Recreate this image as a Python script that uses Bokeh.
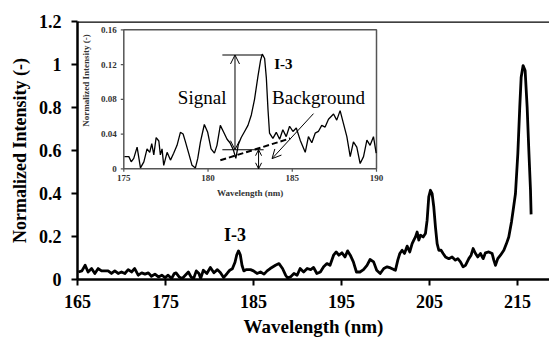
import numpy as np
from bokeh.plotting import figure
from bokeh.models import Range1d, FixedTicker, NumeralTickFormatter, Span, Arrow, OpenHead
from bokeh.core.properties import value
from bokeh.embed import file_html
from bokeh.resources import INLINE

# ---------------- data ----------------
main_wl = [165.1, 165.5, 165.87, 166.2, 166.6, 166.97, 167.35, 167.73, 168.1, 168.48,
           168.86, 169.24, 169.62, 170.0, 170.38, 170.76, 171.14, 171.5, 171.9, 172.3,
           172.67, 173.05, 173.4, 173.8, 174.2, 174.58, 174.96, 175.3, 175.7, 176.0,
           176.2, 176.55, 176.9, 177.25, 177.6, 177.9, 178.2, 178.5, 178.8, 179.0,
           179.3, 179.7, 180.1, 180.5, 180.9, 181.25, 181.6, 182.0, 182.3, 182.6,
           182.9, 183.1, 183.3, 183.5, 183.7, 183.9, 184.2, 184.66, 185.0, 185.4,
           185.8, 186.2, 186.55, 186.9, 187.5, 187.9, 188.3, 188.65, 188.86, 189.2,
           189.6, 189.96, 190.3, 190.7, 191.1, 191.5, 191.83, 192.2, 192.6, 192.97,
           193.35, 193.7, 194.1, 194.4, 194.7, 195.05, 195.4, 195.7, 196.0, 196.35,
           196.7, 197.1, 197.5, 197.9, 198.25, 198.65, 199.0, 199.4, 199.81, 200.19,
           200.57, 200.95, 201.13, 201.4, 201.63, 201.89, 202.16, 202.46, 202.76, 203.03,
           203.22, 203.41, 203.6, 203.79, 203.98, 204.28, 204.54, 204.73, 204.92, 205.11,
           205.3, 205.49, 205.68, 205.87, 206.06, 206.32, 206.55, 206.82, 207.2, 207.57,
           207.95, 208.22, 208.52, 208.82, 209.09, 209.47, 209.73, 209.96, 210.23, 210.49,
           210.79, 211.1, 211.36, 211.74, 212.12, 212.31, 212.5, 212.76, 213.07, 213.45,
           213.75, 214.01, 214.32, 214.51, 214.77, 215.04, 215.26, 215.42, 215.64, 215.87,
           216.1, 216.29, 216.48, 216.55]
main_int = [0.035, 0.040, 0.066, 0.035, 0.051, 0.028, 0.051, 0.040, 0.040, 0.040,
            0.028, 0.040, 0.028, 0.035, 0.028, 0.046, 0.035, 0.051, 0.020, 0.031,
            0.025, 0.031, 0.015, 0.025, 0.012, 0.020, 0.009, 0.020, 0.005, 0.028,
            0.031, 0.012, 0.005, 0.020, 0.035, 0.012, 0.005, 0.040, 0.028, 0.005,
            0.043, 0.028, 0.056, 0.031, 0.046, 0.031, 0.009, 0.028, 0.043, 0.050,
            0.080, 0.115, 0.133, 0.115, 0.065, 0.040, 0.046, 0.046, 0.040, 0.028,
            0.035, 0.025, 0.040, 0.051, 0.066, 0.074, 0.051, 0.020, 0.008, 0.012,
            0.028, 0.020, 0.051, 0.035, 0.051, 0.046, 0.056, 0.028, 0.035, 0.059,
            0.074, 0.066, 0.113, 0.128, 0.113, 0.124, 0.105, 0.133, 0.113, 0.082,
            0.035, 0.035, 0.046, 0.066, 0.093, 0.082, 0.043, 0.028, 0.051, 0.059,
            0.054, 0.046, 0.043, 0.090, 0.121, 0.136, 0.121, 0.155, 0.128, 0.167,
            0.183, 0.198, 0.221, 0.183, 0.206, 0.198, 0.214, 0.275, 0.384, 0.415,
            0.399, 0.337, 0.244, 0.167, 0.136, 0.136, 0.121, 0.105, 0.097, 0.105,
            0.090, 0.097, 0.082, 0.059, 0.066, 0.097, 0.113, 0.144, 0.121, 0.105,
            0.121, 0.097, 0.124, 0.128, 0.121, 0.090, 0.066, 0.097, 0.113, 0.136,
            0.167, 0.198, 0.268, 0.322, 0.399, 0.585, 0.802, 0.941, 0.995, 0.972,
            0.802, 0.601, 0.415, 0.303]

inset_wl = [175.04, 175.30, 175.44, 175.59, 175.79, 175.99, 176.19, 176.38, 176.54, 176.66,
            176.78, 176.92, 177.08, 177.17, 177.27, 177.37, 177.57, 177.77, 177.96, 178.16,
            178.36, 178.52, 178.66, 178.85, 179.05, 179.25, 179.39, 179.55, 179.78, 179.98,
            180.18, 180.38, 180.53, 180.73, 180.93, 181.13, 181.3, 181.5, 181.65, 181.8,
            181.97, 182.17, 182.37, 182.57, 182.76, 182.96, 183.12, 183.22, 183.36, 183.46,
            183.56, 183.65, 183.85, 184.05, 184.25, 184.44, 184.64, 184.84, 185.04, 185.24,
            185.47, 185.77, 185.96, 186.16, 186.36, 186.55, 186.75, 186.95, 187.15, 187.35,
            187.45, 187.64, 187.84, 188.04, 188.24, 188.44, 188.63, 188.83, 189.03, 189.23,
            189.43, 189.62, 189.82, 189.98]
inset_int = [0.014, 0.014, 0.008, 0.012, 0.025, 0.001, 0.008, 0.023, 0.019, 0.029,
             0.016, 0.036, 0.032, 0.016, 0.023, 0.004, 0.019, 0.010, 0.018, 0.027,
             0.042, 0.040, 0.031, 0.018, 0.004, 0.001, 0.012, 0.031, 0.051, 0.042,
             0.023, 0.018, 0.027, 0.050, 0.042, 0.034, 0.030, 0.022, 0.012, 0.028,
             0.036, 0.043, 0.050, 0.062, 0.080, 0.106, 0.125, 0.132, 0.127, 0.105,
             0.068, 0.041, 0.035, 0.042, 0.034, 0.045, 0.037, 0.049, 0.043, 0.047,
             0.033, 0.019, 0.037, 0.030, 0.041, 0.043, 0.050, 0.048, 0.057, 0.061,
             0.063, 0.056, 0.067, 0.052, 0.037, 0.014, 0.031, 0.025, 0.006, 0.014,
             0.033, 0.027, 0.037, 0.018]

main_xticks = [165, 175, 185, 195, 205, 215]
main_yticks = [0, 0.2, 0.4, 0.6, 0.8, 1.0, 1.2]
inset_xticks = [175, 180, 185, 190]
inset_xtick_labels = ["175", "180", "185", "190"]
inset_yticks = [0, 0.04, 0.08, 0.12, 0.16]
inset_ytick_labels = ["0", "0.04", "0.08", "0.12", "0.16"]

FONT = "Liberation Serif"

# ---------------- main figure ----------------
p = figure(width=549, height=341, output_backend="svg", toolbar_location=None,
           x_range=Range1d(165, 218.64), y_range=Range1d(0, 1.2),
           min_border_left=77, min_border_right=0, min_border_top=21, min_border_bottom=62)
p.outline_line_color = None
p.grid.visible = False
p.background_fill_color = "white"
p.border_fill_color = "white"

for ax in (p.xaxis[0], p.yaxis[0]):
    ax.axis_line_width = 2.5
    ax.axis_line_color = "black"
    ax.major_tick_line_width = 2
    ax.major_tick_line_color = "black"
    ax.major_tick_out = 6
    ax.major_tick_in = 0
    ax.minor_tick_line_color = None
    ax.major_label_text_font = FONT
    ax.major_label_text_font_style = "bold"
    ax.major_label_text_font_size = "18px"
    ax.major_label_text_color = "black"
    ax.axis_label_text_font = FONT
    ax.axis_label_text_font_style = "bold"
    ax.axis_label_text_color = "black"

p.xaxis.ticker = FixedTicker(ticks=main_xticks)
p.yaxis.ticker = FixedTicker(ticks=main_yticks)
p.yaxis.formatter = NumeralTickFormatter(format="0.[0]")
p.xaxis.major_label_standoff = 9
p.yaxis.major_label_standoff = 10

p.yaxis.axis_label = "Normalized Intensity (-)"
p.yaxis.axis_label_text_font_size = "18px"
p.yaxis.axis_label_standoff = 6

p.xaxis.axis_label = "Wavelength (nm)"
p.xaxis.axis_label_text_font_size = "19px"
p.xaxis.axis_label_standoff = 5

p.add_layout(Span(location=1.2, dimension="width", line_color="black", line_width=2.5))

p.line(main_wl, main_int, line_color="black", line_width=2.8, line_join="round")

p.text(x=[182.9], y=[0.205], text=["I-3"], text_font=value(FONT), text_font_style="bold",
       text_font_size="18px", text_align="center", text_baseline="alphabetic", text_color="black")

# ---------------- inset (drawn with extra ranges) ----------------
frame_l, frame_r, frame_t, frame_b = 77.0, 549.0, 21.0, 279.0
in_l, in_r, in_t, in_b = 123.3, 376.0, 29.3, 168.3
ix0, ix1 = 175.0, 190.0
iy0, iy1 = 0.0, 0.16
sx = (in_r - in_l) / (ix1 - ix0)
sy = (in_b - in_t) / (iy1 - iy0)
p.extra_x_ranges = {"ix": Range1d(ix0 - (in_l - frame_l) / sx, ix1 + (frame_r - in_r) / sx)}
p.extra_y_ranges = {"iy": Range1d(iy0 - (frame_b - in_b) / sy, iy1 + (in_t - frame_t) / sy)}
kw = dict(x_range_name="ix", y_range_name="iy")

p.quad(left=[ix0], right=[ix1], bottom=[iy0], top=[iy1], fill_color="white",
       line_color="#555555", line_width=1.5, **kw)
p.line(inset_wl, inset_int, line_color="black", line_width=1.3, **kw)

p.ray(x=[ix0] * len(inset_yticks), y=inset_yticks, length=3, angle=np.pi,
      length_units="screen", line_color="#555555", line_width=1.2, **kw)
p.ray(x=inset_xticks, y=[iy0] * len(inset_xticks), length=3, angle=-np.pi / 2,
      length_units="screen", line_color="#555555", line_width=1.2, **kw)

small = dict(text_font=value(FONT), text_font_style="bold", text_font_size="9px", text_color="#333333")
p.text(x=[ix0] * len(inset_yticks), y=inset_yticks, text=inset_ytick_labels, x_offset=-7,
       text_align="right", text_baseline="middle", **small, **kw)
p.text(x=inset_xticks, y=[iy0] * len(inset_xticks), text=inset_xtick_labels, y_offset=6,
       text_align="center", text_baseline="top", **small, **kw)
p.text(x=[182.5], y=[iy0], text=["Wavelength (nm)"], y_offset=19,
       text_align="center", text_baseline="top", **small, **kw)
p.text(x=[172.75], y=[0.1016], text=["Normalized Intensity (-)"], angle=np.pi / 2,
       text_align="center", text_baseline="middle", **small, **kw)

# annotation lines
p.segment(x0=[180.85, 180.85], y0=[0.131, 0.022], x1=[183.25, 183.3], y1=[0.131, 0.022],
          line_color="black", line_width=1.1, **kw)
p.line([180.73, 184.88], [0.0098, 0.035], line_color="black", line_dash="6 3", line_width=2, **kw)

p.add_layout(Arrow(x_start=181.6, y_start=0.022, x_end=181.6, y_end=0.131,
                   start=OpenHead(size=9, line_width=1), end=OpenHead(size=9, line_width=1),
                   line_width=1, **kw))
p.add_layout(Arrow(x_start=183.0, y_start=0.0, x_end=183.0, y_end=0.022,
                   start=OpenHead(size=6, line_width=1), end=OpenHead(size=6, line_width=1),
                   line_width=1, **kw))
p.add_layout(Arrow(x_start=186.26, y_start=0.0635, x_end=183.8, y_end=0.0117,
                   end=OpenHead(size=9, line_width=1), line_width=1, **kw))

big = dict(text_font=value(FONT), text_font_size="19px", text_color="black", text_baseline="alphabetic")
p.text(x=[179.65], y=[0.0825], text=["Signal"], text_align="center", **big, **kw)
p.text(x=[183.8], y=[0.0815], text=["Background"], text_align="left", **big, **kw)
p.text(x=[183.93], y=[0.1205], text=["I-3"], text_font=value(FONT), text_font_style="bold",
       text_font_size="15px", text_align="left", text_baseline="alphabetic", text_color="black", **kw)

open("out.html", "w").write(file_html(p, INLINE))
